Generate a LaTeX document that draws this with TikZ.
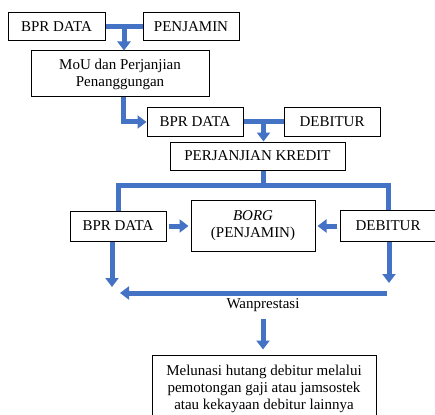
\documentclass[tikz,border=0pt]{standalone}
\usepackage{fontspec}
\setmainfont{Liberation Serif}
\usetikzlibrary{arrows.meta,calc}
\definecolor{birupanah}{RGB}{68,114,196}

\begin{document}
\begin{tikzpicture}[x=1pt,y=-1pt,
  kotak/.style={draw, line width=1pt, inner sep=0pt, minimum height=28pt, align=center, font=\fontsize{15}{17}\selectfont},
  garis/.style={draw=birupanah, line width=5pt},
  panah/.style={garis, -{Triangle[width=13pt,length=9pt]}}]

\useasboundingbox (0,0) rectangle (435,414);
\clip (0,0) rectangle (435,414);

\node[kotak, minimum width=97pt] (bpr1) at (56.5,27) {BPR DATA};
\node[kotak, minimum width=96pt] (penj) at (191,27) {PENJAMIN};
\node[kotak, minimum width=178pt, minimum height=46pt] (mou) at (120,74) {MoU dan Perjanjian\\Penanggungan};
\node[kotak, minimum width=96pt] (bpr2) at (195,122) {BPR DATA};
\node[kotak, minimum width=96pt] (deb2) at (332,122) {DEBITUR};
\node[kotak, minimum width=175pt] (perj) at (257.5,156) {PERJANJIAN KREDIT};
\node[kotak, minimum width=96pt, minimum height=30pt] (bpr3) at (118,226) {BPR DATA};
\node[kotak, minimum width=124pt, minimum height=51pt] (borg) at (253,226) {\textit{BORG}\\(PENJAMIN)};
\node[kotak, minimum width=96pt, minimum height=31pt] (deb3) at (388,226) {DEBITUR};
\node[font=\fontsize{15}{17}\selectfont] (wan) at (263,305) {Wanprestasi};
\node[kotak, minimum width=224pt, minimum height=68pt] (akhir) at (264,389) {Melunasi hutang debitur melalui\\pemotongan gaji atau jamsostek\\atau kekayaan debitur lainnya};

\coordinate (j1) at ($(bpr1.east)!0.5!(penj.west)$);
\coordinate (j2) at ($(bpr2.east)!0.5!(deb2.west)$);
\coordinate (cabang) at (263,185);
\coordinate (kiri) at (112,287);
\coordinate (kanan) at (389,283);
\coordinate (wa) at (387,293);
\coordinate (wb) at (120,293);

\draw[garis] (bpr1.east) -- (penj.west);
\draw[panah] (j1) -- (j1 |- mou.north);
\draw[panah] ([xshift=3pt]mou.south) |- (bpr2.west);
\draw[garis] (bpr2.east) -- (deb2.west);
\draw[panah] (j2) -- (j2 |- perj.north);
\draw[garis] (perj.south -| cabang) -- (cabang);
\draw[garis] (bpr3.north) |- (cabang) -| (deb3.north);
\draw[panah, shorten <=2pt, shorten >=2pt] (bpr3.east) -- (borg.west);
\draw[panah, shorten <=3pt, shorten >=2pt] (deb3.west) -- (borg.east);
\draw[panah] (bpr3.south -| kiri) -- (kiri);
\draw[panah] (deb3.south -| kanan) -- (kanan);
\draw[panah] (wa) -- (wb);
\draw[panah, shorten <=4pt, shorten >=5pt] (wan.south) -- (wan.south |- akhir.north);

\end{tikzpicture}
\end{document}
